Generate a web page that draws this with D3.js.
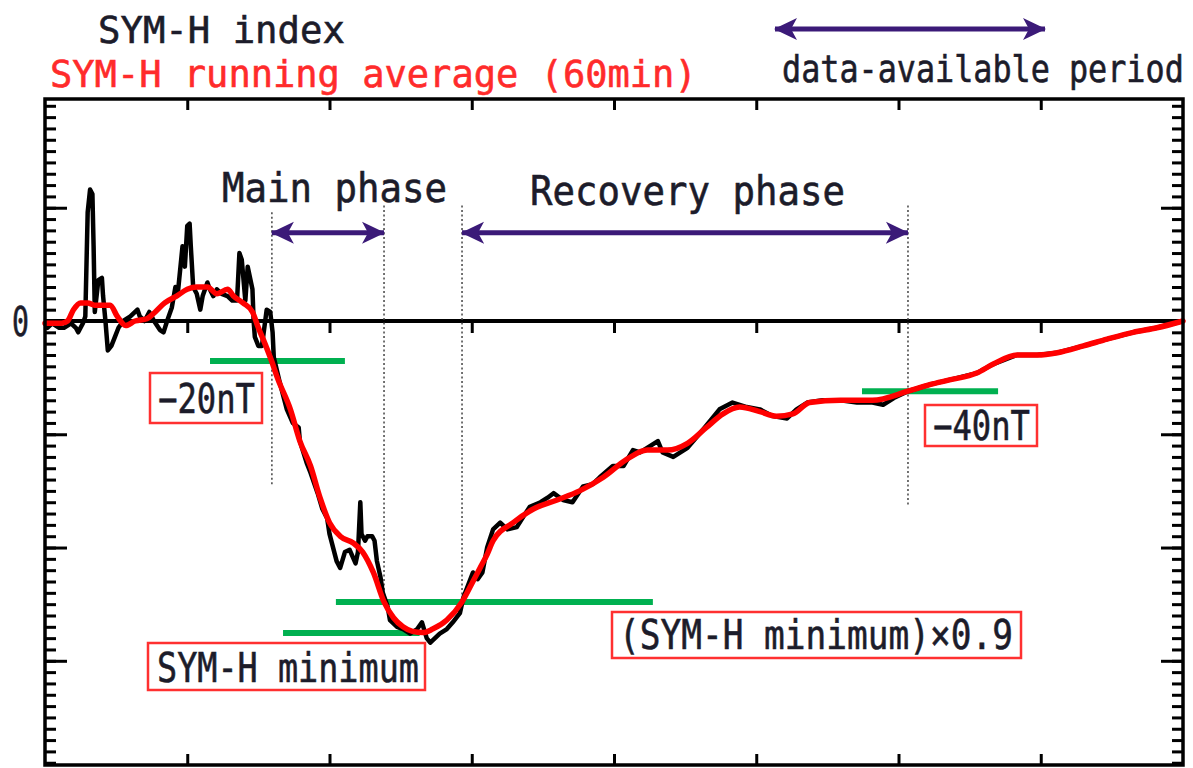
<!DOCTYPE html>
<html>
<head>
<meta charset="utf-8">
<script src="https://cdn.jsdelivr.net/npm/d3@7"></script>
<style>
  body { margin: 0; background: #fff; }
</style>
</head>
<body>
<svg id="chart"></svg>
<script>
// SYM-H index (hours from start, nT)
const symH = [
  [0,-1],[0.1,-3],[0.3,-1],[0.6,-3],[0.8,-3],[1.1,-1],[1.3,-3],[1.4,-5],[1.6,-1],[1.7,2],
  [1.8,48],[1.9,58],[2.0,56],[2.05,33],[2.1,4],[2.25,18],[2.4,19],[2.45,11],[2.55,0],[2.65,-13],
  [2.8,-11],[2.95,-7],[3.1,-3],[3.3,0],[3.6,2],[3.9,5],[4.0,2],[4.2,0],[4.4,4],[4.6,0],
  [4.85,-4],[5.0,-5],[5.15,0],[5.35,6],[5.5,15],[5.6,12],[5.8,33],[5.9,24],[6.0,42],[6.1,43],
  [6.15,33],[6.25,15],[6.4,12],[6.55,5],[6.65,11],[6.85,17],[6.95,14],[7.1,11],[7.25,14],[7.45,12],
  [7.7,11],[7.9,9],[8.1,9],[8.2,30],[8.3,27],[8.45,9],[8.55,24],[8.75,14],[8.8,0],[8.85,-7],
  [9.0,-11],[9.15,-11],[9.2,-7],[9.35,5],[9.5,4],[9.6,-5],[9.65,-16],[9.9,-27],[10.2,-39],[10.45,-45],
  [10.7,-47],[10.75,-53],[11.05,-63],[11.2,-67],[11.5,-76],[11.7,-83],[11.9,-87],[12.0,-94],[12.3,-106],[12.45,-109],
  [12.65,-102],[12.85,-101],[13.1,-107],[13.2,-102],[13.3,-80],[13.35,-94],[13.5,-97],[13.6,-95],[13.8,-95],[13.9,-97],
  [14.0,-106],[14.15,-113],[14.25,-120],[14.45,-126],[14.55,-132],[14.85,-135],[15.1,-136],[15.4,-138],[15.7,-136],[15.9,-133],
  [16.1,-140],[16.25,-142],[16.35,-141],[16.65,-138],[16.95,-136],[17.2,-133],[17.5,-129],[17.65,-122],[18.05,-111],[18.25,-114],
  [18.45,-111],[18.65,-100],[18.9,-92],[19.2,-89],[19.5,-92],[19.9,-91],[20.2,-86],[20.45,-82],[20.9,-80],[21.2,-78],
  [21.45,-76],[21.85,-79],[22.25,-80],[22.7,-73],[23.1,-72],[23.4,-69],[23.95,-64],[24.4,-64],[24.8,-57],[25.1,-58],
  [25.4,-56],[25.85,-53],[26.05,-58],[26.5,-60],[27.1,-56],[27.75,-48],[28.45,-39],[29.0,-36],[29.6,-38],[30.15,-39],
  [30.7,-42],[31.3,-43],[31.7,-39],[32.15,-36],[32.8,-35],[33.55,-35],[34.25,-36],[34.9,-36],[35.35,-37],[35.8,-34],
  [36.4,-31],[37.35,-28],[38.15,-26],[39.3,-23],[40.0,-19],[41.0,-15],[41.85,-15],[42.7,-14],[43.8,-11],[44.8,-8],
  [45.9,-5],[46.9,-3],[48,0]
];

// SYM-H running average (60 min)
const symHAvg = [
  [0,-1],[0.3,-1],[0.7,-1],[0.95,0],[1.2,5],[1.5,8],[1.8,8],[2.1,7],[2.75,7],[3.05,2],
  [3.4,-2],[3.8,0],[4.3,1],[4.65,4],[5.05,8],[5.55,11],[6.0,14],[6.4,15],[6.85,15],[7.25,12],
  [7.7,14],[7.95,11],[8.35,8],[8.75,4],[9.0,-3],[9.2,-8],[9.57,-18],[9.8,-25],[10.35,-39],[10.75,-53],
  [11.2,-64],[11.6,-78],[12.0,-89],[12.45,-95],[13.0,-98],[13.4,-102],[13.85,-111],[14.3,-124],[14.7,-131],[15.1,-135],
  [15.5,-137],[15.95,-137.5],[16.35,-136],[16.95,-132],[17.59,-124],[18.05,-115],[18.35,-109],[18.65,-103],[18.9,-97],[19.75,-89],
  [20.6,-83],[21.6,-79],[22.55,-75],[23.55,-69],[24.55,-61],[25.4,-57],[26.25,-57],[27.1,-54],[27.9,-47],[28.6,-41],
  [29.3,-38],[30.15,-40],[30.85,-42],[31.55,-41],[32.25,-36],[33.55,-35],[34.9,-35],[36.4,-31],[37.35,-28],[38.15,-26],
  [39.3,-23],[40.0,-19],[41.0,-15],[41.85,-15],[42.7,-14],[43.8,-11],[44.8,-8],[45.9,-5],[46.9,-3],[48,0]
];

// green threshold lines: [start h, end h, level nT]
const thresholds = [[6.96, 12.65, -17.7], [10.04, 15.8, -137.7], [12.27, 25.64, -124], [34.46, 40.2, -31]];
// dotted phase markers: [h, top nT, bottom nT]
const markers = [[9.57, 48, -73], [14.3, 51, -124], [17.59, 51, -124], [36.4, 51, -82]];
// phase arrows: [from h, to h, level nT]
const phaseArrows = [[9.57, 14.3, 39], [17.59, 36.4, 39]];

const xMajor = d3.range(6, 48, 6);
const yMajor = [-150, -100, -50, 50];
const yMinor = d3.range(-195, 98, 5);

const width = 1193, height = 768;
const plotLeft = 45, plotRight = 1183, plotTop = 99, plotBottom = 765;
const font = "'DejaVu Sans Mono', monospace";
const purple = "#3b1a78", green = "#00b050", red = "#ff0000";

const svg = d3.select("#chart")
    .attr("width", width)
    .attr("height", height)
    .attr("viewBox", `0 0 ${width} ${height}`);

svg.append("rect").attr("width", width).attr("height", height).attr("fill", "#fff");

const x = d3.scaleLinear().domain([0, 48]).range([plotLeft, plotRight]);
const y = d3.scaleLinear().domain([-196, 98]).range([plotBottom, plotTop]);

// arrow head marker
const defs = svg.append("defs");
defs.append("marker")
    .attr("id", "head")
    .attr("viewBox", "0 -12 24 24")
    .attr("refX", 22).attr("refY", 0)
    .attr("markerWidth", 24).attr("markerHeight", 24)
    .attr("markerUnits", "userSpaceOnUse")
    .attr("orient", "auto-start-reverse")
    .append("path")
    .attr("d", "M0,-11L23,0L0,11L6,0Z")
    .attr("fill", purple);

// axes ticks (no labels)
function ticks(g) {
    g.select(".domain").remove();
    g.selectAll(".tick line").attr("stroke", "#000").attr("stroke-width", 3);
    g.selectAll(".tick text").remove();
}
svg.append("g").attr("transform", `translate(${plotLeft},0)`)
    .call(d3.axisRight(y).tickValues(yMinor).tickSize(11)).call(ticks);
svg.append("g").attr("transform", `translate(${plotLeft},0)`)
    .call(d3.axisRight(y).tickValues(yMajor).tickSize(22)).call(ticks);
svg.append("g").attr("transform", `translate(${plotRight},0)`)
    .call(d3.axisLeft(y).tickValues(yMinor).tickSize(11)).call(ticks);
svg.append("g").attr("transform", `translate(${plotRight},0)`)
    .call(d3.axisLeft(y).tickValues(yMajor).tickSize(22)).call(ticks);
svg.append("g").attr("transform", `translate(0,${plotTop})`)
    .call(d3.axisBottom(x).tickValues(xMajor).tickSize(11)).call(ticks);
svg.append("g").attr("transform", `translate(0,${plotBottom})`)
    .call(d3.axisTop(x).tickValues(xMajor).tickSize(11)).call(ticks);
svg.append("g").attr("transform", `translate(0,${y(0)})`)
    .call(d3.axisBottom(x).tickValues(xMajor).tickSize(12)).call(ticks);

// zero line
svg.append("line")
    .attr("x1", plotLeft).attr("x2", plotRight)
    .attr("y1", y(0)).attr("y2", y(0))
    .attr("stroke", "#000").attr("stroke-width", 4);

// dotted phase markers
svg.append("g").selectAll("line").data(markers).join("line")
    .attr("x1", d => x(d[0])).attr("x2", d => x(d[0]))
    .attr("y1", d => y(d[1])).attr("y2", d => y(d[2]))
    .attr("stroke", "#444").attr("stroke-width", 1.5)
    .attr("stroke-dasharray", "2,2.5");

// threshold lines
svg.append("g").selectAll("line").data(thresholds).join("line")
    .attr("x1", d => x(d[0])).attr("x2", d => x(d[1]))
    .attr("y1", d => y(d[2])).attr("y2", d => y(d[2]))
    .attr("stroke", green).attr("stroke-width", 6);

// SYM-H
svg.append("path")
    .datum(symH)
    .attr("fill", "none")
    .attr("stroke", "#000")
    .attr("stroke-width", 4.5)
    .attr("stroke-linejoin", "round")
    .attr("d", d3.line().x(d => x(d[0])).y(d => y(d[1])));

// running average
svg.append("path")
    .datum(symHAvg)
    .attr("fill", "none")
    .attr("stroke", red)
    .attr("stroke-width", 5.5)
    .attr("stroke-linecap", "round")
    .attr("d", d3.line().curve(d3.curveMonotoneX).x(d => x(d[0])).y(d => y(d[1])));

// phase arrows
svg.append("g").selectAll("line").data(phaseArrows).join("line")
    .attr("x1", d => x(d[0])).attr("x2", d => x(d[1]))
    .attr("y1", d => y(d[2])).attr("y2", d => y(d[2]))
    .attr("stroke", purple).attr("stroke-width", 5)
    .attr("marker-start", "url(#head)").attr("marker-end", "url(#head)");

// legend arrow (top right)
svg.append("line")
    .attr("x1", 775).attr("x2", 1045).attr("y1", 29).attr("y2", 29)
    .attr("stroke", purple).attr("stroke-width", 5)
    .attr("marker-start", "url(#head)").attr("marker-end", "url(#head)");

// narrow text: squeeze horizontally so it spans `len` pixels
function label(txt, tx, ty, len, size, color) {
    const c = color || "#1c1c2a";
    const t = svg.append("text")
        .attr("font-family", font)
        .attr("font-size", size)
        .attr("fill", c)
        .attr("stroke", c).attr("stroke-width", 0.6)
        .text(txt);
    const w = t.node().getComputedTextLength();
    t.attr("transform", `translate(${tx},${ty}) scale(${len / w},1)`);
}

function boxLabel(txt, bx, by, bw, bh, tx, ty, len) {
    svg.append("rect")
        .attr("x", bx).attr("y", by).attr("width", bw).attr("height", bh)
        .attr("fill", "#fff").attr("stroke", "#ff3030").attr("stroke-width", 2.5);
    label(txt, tx, ty, len, 40);
}

label("SYM-H index", 98, 43, 247, 37);
label("SYM-H running average (60min)", 50, 87, 647, 38, "#ff2b2b");
label("data-available period", 782, 82, 402, 38);
label("0", 12, 336, 17, 40);
label("Main phase", 222, 202, 225, 41);
label("Recovery phase", 530, 205, 315, 41);

boxLabel("\u221220nT", 150, 373, 112, 50, 158, 413, 97);
boxLabel("SYM-H minimum", 148, 643, 277, 47, 157, 682, 262);
boxLabel("(SYM-H minimum)\u00d70.9", 612, 612, 409, 46, 619, 649, 394);
boxLabel("\u221240nT", 925, 405, 112, 41, 933, 440, 97);

// frame
svg.append("rect")
    .attr("x", plotLeft).attr("y", plotTop)
    .attr("width", plotRight - plotLeft).attr("height", plotBottom - plotTop)
    .attr("fill", "none").attr("stroke", "#000").attr("stroke-width", 3.5);
</script>
</body>
</html>
